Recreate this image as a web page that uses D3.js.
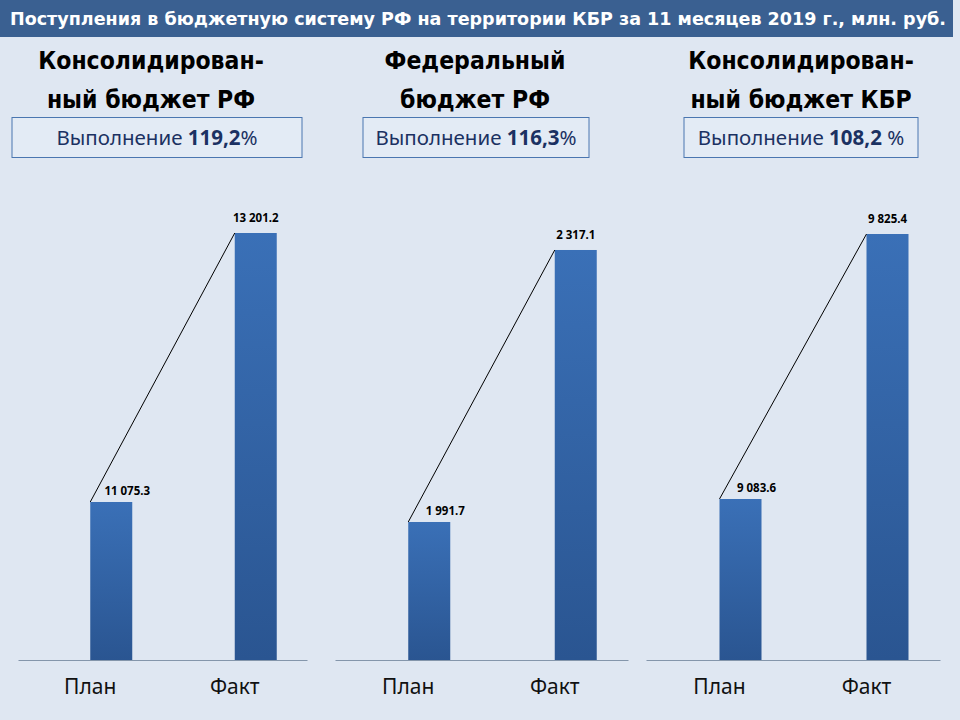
<!DOCTYPE html>
<html>
<head>
<meta charset="utf-8">
<script src="https://cdn.jsdelivr.net/npm/d3@7"></script>
<style>
  html, body { margin: 0; padding: 0; background: #dfe7f2; }
  svg { display: block; }
</style>
</head>
<body>
<div id="chart"></div>
<script>

/*******************************/
/*         The data            */
/*******************************/
const mainTitle = "Поступления в бюджетную систему РФ на территории КБР за 11 месяцев 2019 г., млн. руб.";
const categories = ["План", "Факт"];
const panelTitles = [
  ["Консолидирован-", "ный бюджет РФ"],
  ["Федеральный", "бюджет РФ"],
  ["Консолидирован-", "ный бюджет КБР"]
];
const planValues = [11075.3, 1991.7, 9083.6];
const factValues = [13201.2, 2317.1, 9825.4];
const completionValues = ["119,2", "116,3", "108,2"];
const completionSuffix = ["%", "%", " %"];
// value axis bounds of each panel (axis does not start at zero)
const axisMin = [9826.6, 1826.6, 8632.9];
const axisMax = [13462, 2376.9, 9920.6];


/*******************************/
/*    Declare the constants    */
/*******************************/
const width = 960;
const height = 720;
const baseline = 660;
const plotTop = 200;
const panels = [
  {x0: 18, x1: 307, cx: 157, boxX: 12, boxW: 290, titleCx: 151},
  {x0: 335, x1: 628, cx: 476, boxX: 363, boxW: 226, titleCx: 475},
  {x0: 646, x1: 940, cx: 801, boxX: 684, boxW: 234, titleCx: 801}
];
const barWidth = 42;
const condensed = "'Liberation Sans Narrow', 'DejaVu Sans Condensed', 'Noto Sans', sans-serif";
const fmt = d3.formatLocale({decimal: ".", thousands: " ", grouping: [3], currency: ["", ""]}).format(",.1f");


/*******************************/
/*    Append the containers    */
/*******************************/
const svg = d3.select("#chart")
  .append("svg")
    .attr("width", width)
    .attr("height", height)
    .attr("viewBox", `0 0 ${width} ${height}`);

svg.append("rect")
    .attr("width", width)
    .attr("height", height)
    .attr("fill", "#dfe7f2");

const grad = svg.append("defs")
  .append("linearGradient")
    .attr("id", "barGradient")
    .attr("x1", 0).attr("x2", 0)
    .attr("y1", 0).attr("y2", 1);
grad.append("stop").attr("offset", "0%").attr("stop-color", "#3a70b7");
grad.append("stop").attr("offset", "100%").attr("stop-color", "#2a5591");

// Title banner
svg.append("rect")
    .attr("x", 0)
    .attr("y", 0)
    .attr("width", 953)
    .attr("height", 37)
    .attr("fill", "#3a6091");
svg.append("text")
    .text(mainTitle)
    .attr("x", 10)
    .attr("y", 25)
    .attr("textLength", 936)
    .attr("lengthAdjust", "spacingAndGlyphs")
    .attr("fill", "#ffffff")
    .attr("font-family", condensed)
    .attr("font-weight", "bold")
    .attr("font-size", 17.5);


/*******************************/
/*       Draw each panel       */
/*******************************/
panels.forEach((p, i) => {
  const g = svg.append("g");

  // Panel title
  panelTitles[i].forEach((line, j) => {
    g.append("text")
        .text(line)
        .attr("x", p.titleCx)
        .attr("y", 69 + j * 39)
        .attr("text-anchor", "middle")
        .attr("fill", "#000000")
        .attr("font-family", condensed)
        .attr("font-weight", "bold")
        .attr("font-size", 24.5);
  });

  // Completion box
  g.append("rect")
      .attr("x", p.boxX)
      .attr("y", 117.5)
      .attr("width", p.boxW)
      .attr("height", 40)
      .attr("fill", "#e3ebf5")
      .attr("stroke", "#4a76b0")
      .attr("stroke-width", 1);
  const boxText = g.append("text")
      .attr("x", p.cx)
      .attr("y", 145)
      .attr("text-anchor", "middle")
      .attr("fill", "#1b3162")
      .attr("font-family", "'Noto Sans', sans-serif")
      .attr("font-size", 20.5);
  boxText.append("tspan").text("Выполнение ");
  boxText.append("tspan").attr("font-weight", "bold").text(completionValues[i]);
  boxText.append("tspan").text(completionSuffix[i]);

  // Scales
  const xScale = d3.scaleBand()
    .domain(categories)
    .range([p.x0, p.x1]);
  const yScale = d3.scaleLinear()
    .domain([axisMin[i], axisMax[i]])
    .range([baseline, plotTop]);

  const values = [planValues[i], factValues[i]];
  const bars = categories.map((c, k) => ({cat: c, value: values[k]}));
  const barX = d => xScale(d.cat) + xScale.bandwidth() / 2;

  // Bars
  g.selectAll(".bar")
    .data(bars)
    .join("rect")
      .attr("class", "bar")
      .attr("x", barX)
      .attr("y", d => yScale(d.value))
      .attr("width", barWidth)
      .attr("height", d => baseline - yScale(d.value))
      .attr("fill", "url(#barGradient)");

  // Connector from plan to fact
  g.append("line")
      .attr("x1", barX(bars[0]))
      .attr("y1", yScale(bars[0].value))
      .attr("x2", barX(bars[1]))
      .attr("y2", yScale(bars[1].value))
      .attr("stroke", "#000000")
      .attr("stroke-width", 1);

  // Value labels
  g.selectAll(".value-label")
    .data(bars)
    .join("text")
      .attr("class", "value-label")
      .text(d => fmt(d.value))
      .attr("x", (d, k) => barX(d) + barWidth / 2 + (k === 0 ? 16 : 0))
      .attr("y", (d, k) => yScale(d.value) - (k === 0 ? 7 : 11))
      .attr("text-anchor", "middle")
      .attr("fill", "#000000")
      .attr("font-family", "'Noto Sans', sans-serif")
      .attr("font-weight", "bold")
      .attr("font-size", 11.5);

  // Category axis
  const bottomAxis = d3.axisBottom(xScale)
    .tickSize(0)
    .tickSizeOuter(0)
    .tickPadding(19);
  const axisG = g.append("g")
      .attr("transform", `translate(0, ${baseline})`)
      .call(bottomAxis);
  axisG.select(".domain")
      .attr("stroke", "#8496ab")
      .attr("stroke-width", 1.2);
  axisG.selectAll("text")
      .attr("fill", "#111111")
      .attr("font-family", "'Noto Sans', sans-serif")
      .attr("font-size", 21);
});

</script>
</body>
</html>
